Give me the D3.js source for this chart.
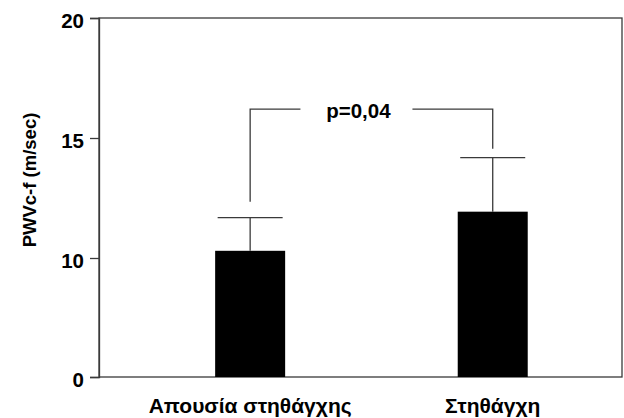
<!DOCTYPE html>
<html>
<head>
<meta charset="utf-8">
<script src="https://cdn.jsdelivr.net/npm/d3@7"></script>
<style>
  html, body { margin: 0; padding: 0; background: #fff; }
  svg text { font-family: "Liberation Sans", Arial, sans-serif; font-weight: bold; fill: #000; }
</style>
</head>
<body>
<svg id="chart" width="624" height="418"></svg>
<script>
// ---- data ----
const categories = ["Απουσία στηθάγχης", "Στηθάγχη"];
const means = [10.3, 11.93];
const errors = [1.38, 2.25];
const yTickValues = [0, 10, 15, 20];
const yTitle = "PWVc-f (m/sec)";
const pLabel = "p=0,04";

// ---- layout ----
const svg = d3.select("#chart");
const plotL = 99, plotR = 622, plotT = 18, plotB = 377;

// broken (piecewise) y scale: 0..10 compressed
const y = d3.scaleLinear().domain([0, 10, 20]).range([plotB, 258, plotT]);
const x = d3.scalePoint().domain(categories).range([plotL, plotR]).padding(0.578).align(0.539);
const barW = 70;
const stroke = "#3a3a3a";

// frame
svg.append("rect").attr("x", plotL).attr("y", plotT).attr("width", plotR - plotL).attr("height", plotB - plotT)
  .attr("fill", "none").attr("stroke", stroke).attr("stroke-width", 1.3);

// y axis
const yAxis = d3.axisLeft(y).tickValues(yTickValues).tickSize(9).tickPadding(6).tickFormat(d3.format("d"));
const gy = svg.append("g").attr("transform", `translate(${plotL},0)`).call(yAxis);
gy.select(".domain").attr("stroke", stroke).attr("stroke-width", 1.3);
gy.selectAll(".tick line").attr("stroke", stroke).attr("stroke-width", 1.3);
gy.selectAll(".tick text").style("font-size", "20.5px").attr("fill", "#000").attr("dy", "0.47em")
  .style("font-family", "'Liberation Sans', Arial, sans-serif").style("font-weight", "bold");

// y title
svg.append("text").attr("transform", `translate(36,180) rotate(-90)`)
  .attr("text-anchor", "middle").style("font-size", "18.5px").text(yTitle);

// x labels
svg.selectAll(".xlab").data(categories).enter().append("text").attr("class", "xlab")
  .attr("x", d => x(d)).attr("y", 412.5).attr("text-anchor", "middle").style("font-size", "21px").text(d => d);

// bars
svg.selectAll(".bar").data(categories).enter().append("rect").attr("class", "bar")
  .attr("x", d => x(d) - barW / 2).attr("width", barW)
  .attr("y", (d, i) => y(means[i])).attr("height", (d, i) => plotB - y(means[i]))
  .attr("fill", "#000");

// error bars (upper only)
const capW = 65;
categories.forEach((c, i) => {
  const cx = x(c);
  svg.append("line").attr("x1", cx).attr("x2", cx).attr("y1", y(means[i])).attr("y2", y(means[i] + errors[i]))
    .attr("stroke", stroke).attr("stroke-width", 1.3);
  svg.append("line").attr("x1", cx - capW / 2).attr("x2", cx + capW / 2)
    .attr("y1", y(means[i] + errors[i])).attr("y2", y(means[i] + errors[i]))
    .attr("stroke", stroke).attr("stroke-width", 1.3);
});

// significance bracket
const bracketY = y(16.2);
const bx1 = x(categories[0]), bx2 = x(categories[1]);
const mid = (bx1 + bx2) / 2 - 15;
const gap = 56;
const path = d3.path();
path.moveTo(bx1, y(means[0] + errors[0]) - 16);
path.lineTo(bx1, bracketY);
path.lineTo(mid - gap, bracketY);
path.moveTo(mid + gap, bracketY);
path.lineTo(bx2, bracketY);
path.lineTo(bx2, y(means[1] + errors[1]) - 9);
svg.append("path").attr("d", path.toString()).attr("fill", "none").attr("stroke", stroke).attr("stroke-width", 1.3);
svg.append("text").attr("x", mid + 2).attr("y", bracketY + 8.5).attr("text-anchor", "middle")
  .style("font-size", "20.5px").text(pLabel);
</script>
</body>
</html>
